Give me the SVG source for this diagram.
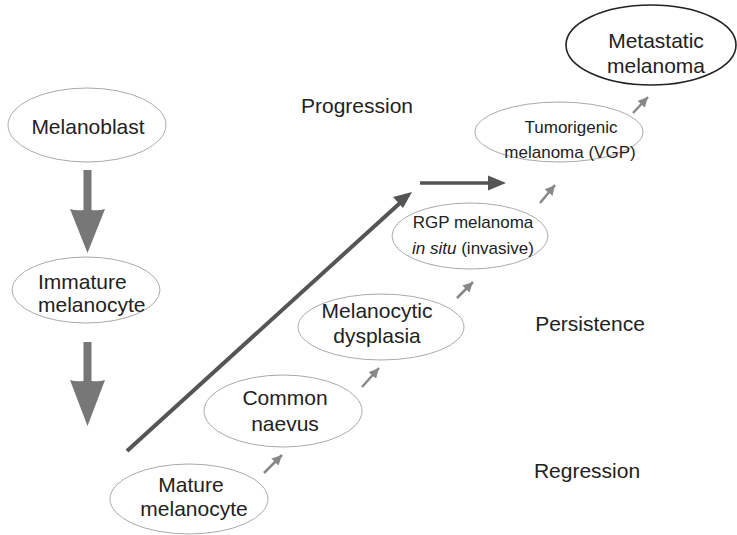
<svg xmlns="http://www.w3.org/2000/svg" width="737" height="535" viewBox="0 0 737 535">
<style>
.n{fill:#fff;stroke:#aaa;stroke-width:1}
.k{fill:#fff;stroke:#222;stroke-width:1.6}
text{font-family:"Liberation Sans",Arial,sans-serif;fill:#222;text-anchor:middle}
.l{font-size:21px}
.s{font-size:17px}
.big{fill:#777}
.sm{stroke:#888;stroke-width:2.5;fill:none;marker-end:url(#ag)}
</style>
<defs>
<marker id="ag" markerWidth="10" markerHeight="10" refX="10" refY="5" orient="auto" markerUnits="userSpaceOnUse" viewBox="0 0 10 10">
<path d="M0,0L10,5L0,10z" fill="#888"/>
</marker>
</defs>
<g id="labels">
<text class="l" x="357" y="113">Progression</text>
<text class="l" x="590" y="331">Persistence</text>
<text class="l" x="587" y="478">Regression</text>
</g>
<g id="connectors">
<path class="big" d="M83.5,170H91.5V210Q99,211 105,209L87.5,253L70,209Q76,211 83.5,210Z"/>
<path class="big" d="M83.5,342H91.5V381Q99,382 105,380L87.5,426L70,380Q76,382 83.5,381Z"/>
<line x1="127" y1="451" x2="400" y2="203" stroke="#555" stroke-width="4"/>
<path d="M412,192L393,197L403,208Z" fill="#555"/>
<line x1="420" y1="183" x2="490" y2="183" stroke="#555" stroke-width="3.5"/>
<path d="M506,183L488,175.5L488,190.5Z" fill="#555"/>
<line class="sm" x1="264" y1="473" x2="282" y2="455"/>
<line class="sm" x1="362" y1="387" x2="379" y2="368"/>
<line class="sm" x1="457" y1="298" x2="473" y2="282"/>
<line class="sm" x1="540" y1="203" x2="555" y2="185"/>
<line class="sm" x1="633" y1="113" x2="648" y2="97"/>
</g>
<g id="melanoblast">
<ellipse class="n" cx="87" cy="125" rx="79" ry="37"/>
<text class="l" x="88" y="134">Melanoblast</text>
</g>
<g id="immature">
<ellipse class="n" cx="86" cy="290" rx="74" ry="33"/>
<text class="l" x="38" y="289" style="text-anchor:start">Immature</text>
<text class="l" x="38" y="312" style="text-anchor:start">melanocyte</text>
</g>
<g id="mature">
<ellipse class="n" cx="189" cy="499" rx="79" ry="35"/>
<text class="l" x="191" y="492">Mature</text>
<text class="l" x="194" y="516">melanocyte</text>
</g>
<g id="naevus">
<ellipse class="n" cx="283" cy="411" rx="79" ry="36"/>
<text class="l" x="285" y="405">Common</text>
<text class="l" x="285" y="431">naevus</text>
</g>
<g id="dysplasia">
<ellipse class="n" cx="381" cy="327" rx="83" ry="33"/>
<text class="l" x="377" y="318">Melanocytic</text>
<text class="l" x="377" y="343">dysplasia</text>
</g>
<g id="rgp">
<ellipse class="n" cx="470" cy="236" rx="78" ry="33"/>
<text class="s" x="473" y="228">RGP melanoma</text>
<text class="s" x="473" y="254"><tspan font-style="italic">in situ</tspan> (invasive)</text>
</g>
<g id="tumorigenic">
<ellipse class="n" cx="559" cy="132" rx="84" ry="30"/>
<text class="s" x="571" y="133">Tumorigenic</text>
<text class="s" x="570" y="158">melanoma (VGP)</text>
</g>
<g id="metastatic">
<ellipse class="k" cx="651" cy="45" rx="85" ry="40"/>
<text class="l" x="656" y="48">Metastatic</text>
<text class="l" x="656" y="73">melanoma</text>
</g>
</svg>
